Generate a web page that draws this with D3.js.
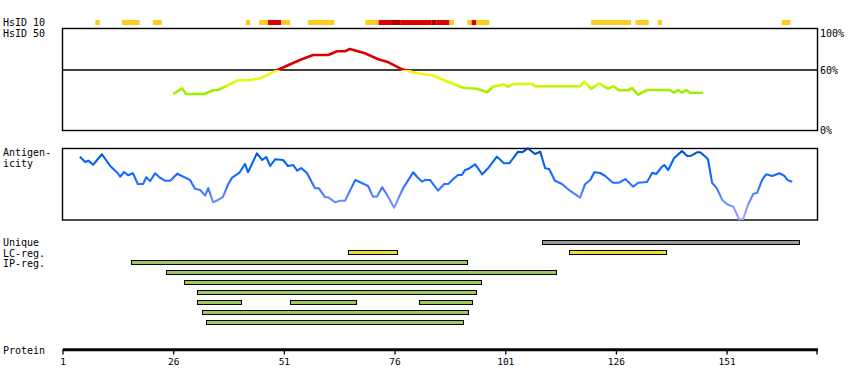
<!DOCTYPE html>
<html>
<head>
<meta charset="utf-8">
<script src="https://cdn.jsdelivr.net/npm/d3@7"></script>
<style>
    body { margin: 0; background: #fff; }
    text { font-family: "DejaVu Sans Mono", monospace; font-size: 10px; fill: #000; }
</style>
</head>
<body>
<svg id="chart" width="850" height="390"></svg>
<script>
// protein length and axis ticks
let proteinLength = 171
let tickResidues = [1, 26, 51, 76, 101, 126, 151]

// HsID 10 identity blocks: [start, end, level] level 1 = medium, 2 = high, 3 = very high
let hsid10Blocks = [
    [8, 8, 1], [14, 17, 1], [21, 22, 1], [42, 42, 1], [45, 46, 1], [47, 49, 2], [50, 51, 1],
    [56, 61, 1], [69, 71, 1], [72, 74, 2], [75, 76, 3], [77, 83, 2], [84, 84, 3], [85, 87, 2],
    [88, 88, 1], [92, 92, 1], [93, 93, 2], [94, 96, 1], [120, 128, 1], [130, 132, 1],
    [135, 135, 1], [163, 164, 1]
]

// HsID 50 identity (%) per residue position
let hsid50Res = [25.9, 27.9, 28.8, 32.9, 34.9, 36.0, 40.5, 43.2, 45.5, 49.3, 54.5, 57.5, 60.9, 62.9,
    64.7, 65.8, 67.6, 69.2, 72.2, 74.2, 77.6, 81.0, 84.4, 86.8, 91.4, 94.5, 96.8, 98.1, 100.6,
    101.5, 102.7, 107.0, 107.6, 117.8, 118.7, 120.3, 122.1, 124.1, 125.3, 126.6, 128.6, 129.5,
    130.9, 132.9, 138.1, 139.0, 139.9, 140.8, 141.7, 142.6, 145.6]
let hsid50Pct = [36, 41.7, 36, 36, 39.7, 40, 49.7, 50, 51.7, 59.7, 70, 75, 75, 78.7,
    78.7, 81, 78.7, 76.7, 70.7, 68.3, 60.7, 56.7, 54.7, 50.3, 42.3, 41.3, 37.7, 43.3, 45.7,
    43.3, 46, 46, 43.7, 43.7, 48.3, 41.3, 46.7, 41.3, 44, 39.7, 39.7, 42,
    35.3, 40, 40, 37.3, 40, 37.3, 40, 37.3, 37.3]

// antigenicity score (0-100) per residue position
let antiRes = [4.8, 6.0, 6.7, 7.8, 9.8, 11.6, 13.4, 13.9, 14.8, 15.7, 16.8, 17.9, 19.1, 19.8, 20.7,
    21.8, 22.7, 24.0, 25.2, 26.8, 28.6, 29.7, 30.8, 32.0, 33.1, 33.8, 34.9, 36.0, 37.1, 38.3,
    39.2, 40.8, 42.1, 42.8, 44.8, 46.0, 46.9, 47.8, 48.9, 50.7, 51.8, 53.0, 53.9, 54.8, 56.1,
    57.9, 58.8, 60.2, 60.9, 62.5, 63.6, 64.7, 67.0, 68.5, 69.9, 71.0, 71.9, 73.1, 74.2, 75.8,
    77.8, 80.1, 81.0, 82.1, 82.8, 83.9, 85.7, 87.1, 88.0, 89.1, 90.2, 91.1, 91.8, 92.5, 94.1,
    95.7, 97.0, 99.0, 100.6, 101.8, 103.8, 104.7, 106.0, 107.6, 108.8, 109.9, 110.8, 112.1,
    113.7, 115.5, 117.8, 118.9, 120.1, 121.0, 122.3, 123.4, 125.2, 126.6, 128.0, 129.8, 130.9,
    132.9, 134.1, 135.0, 136.3, 136.8, 137.7, 139.0, 140.8, 142.0, 142.9, 144.2, 144.9, 146.5,
    146.7, 147.6, 148.7, 149.9, 151.0, 152.4, 153.7, 154.6, 155.7, 156.9, 157.8, 158.9, 159.8,
    161.2, 162.8, 163.9, 164.6, 165.7]
let antiVal = [87.9, 80.6, 82.4, 76.8, 91.3, 75.4, 64.9, 60.1, 66.7, 62.1, 64.9, 50, 50, 59.3, 54.2,
    64.9, 59.7, 54.6, 54.6, 64.3, 58.8, 55.6, 43.5, 41.7, 33.8, 44.4, 24.6, 27.8, 31.9, 49.6,
    58.8, 65.3, 77.8, 66.3, 92.6, 83.3, 87.5, 75, 84.3, 83.3, 75, 76.4, 68.5, 72.2, 65.3,
    44, 44, 31.5, 31.5, 24.6, 26.8, 26.8, 55.6, 51.4, 47.2, 32.4, 32.4, 45.4, 34.7, 17.1,
    44, 66.3, 59.7, 53.2, 55.6, 55.6, 40.7, 50, 50, 56.5, 62.5, 62.5, 69.4, 70.8, 77.4,
    63.5, 71.8, 87.9, 78.8, 78.8, 94.9, 94, 99.6, 91.7, 94.9, 71.8, 70.8, 54.6,
    50, 40.7, 31, 49.6, 55.6, 66.3, 65.3, 61.5, 51.8, 51.8, 56.9, 46.3, 51.8,
    52.8, 65.7, 63.9, 74, 76.4, 69.4, 85.7, 95.8, 88.9, 89.3, 94, 94, 85.7,
    83.3, 51.8, 44, 27.8, 21.8, 18.5, 1, 1.4, 20.8, 36.1, 37.9, 55.6, 63.5,
    61.1, 64.9, 61.5, 55.6, 53.2]

// region tracks: [start, end]
let uniqueRegions = [[109, 166]]
let lcRegions = [[65, 75], [115, 136]]
let ipRows = [
    [[16, 91]],
    [[24, 111]],
    [[28, 94]],
    [[31, 93]],
    [[31, 40], [52, 66], [81, 92]],
    [[32, 91]],
    [[33, 90]]
]

let svg = d3.select("#chart")
let left = 63, right = 817

let x = d3.scaleLinear().domain([1, proteinLength + 0.3]).range([left, right])
let cellX = r => x(r + 0.3) // left edge of a residue cell

// ---- labels on the left
function label(txt, y) {
    svg.append("text").attr("x", 3).attr("y", y).text(txt)
}
label("HsID 10", 26)
label("HsID 50", 36.5)
label("Antigen-", 156)
label("icity", 166.5)
label("Unique", 246)
label("LC-reg.", 256.5)
label("IP-reg.", 266.5)
label("Protein", 353.5)

// ---- HsID 10 strip
let hsidColor = {1: "#ffcc22", 2: "#dd0000", 3: "#aa0000"}
svg.append("g").selectAll("rect")
    .data(hsid10Blocks)
    .join("rect")
    .attr("x", d => cellX(d[0]))
    .attr("y", 20)
    .attr("width", d => cellX(d[1] + 1) - cellX(d[0]))
    .attr("height", 5)
    .attr("fill", d => hsidColor[d[2]])

// ---- HsID 50 panel
let yH = d3.scaleLinear().domain([0, 100]).range([130, 30])
let defs = svg.append("defs")

function gradient(id, scale, stops) {
    let g = defs.append("linearGradient")
        .attr("id", id)
        .attr("gradientUnits", "userSpaceOnUse")
        .attr("x1", 0).attr("x2", 0)
        .attr("y1", scale(100)).attr("y2", scale(0))
    stops.forEach(s => {
        g.append("stop")
            .attr("offset", (100 - s[0]) / 100)
            .attr("stop-color", s[1])
    })
}
gradient("hsidGrad", yH, [
    [100, "#dd0000"], [60.2, "#dd0000"], [59.8, "#ffee22"], [55, "#f4f020"],
    [50, "#ddff00"], [45, "#ccff00"], [41, "#a8ee00"], [36, "#99ee00"], [0, "#99ee00"]
])

svg.append("rect")
    .attr("x", 62.5).attr("y", 28.5)
    .attr("width", right - 62).attr("height", 102)
    .attr("fill", "none").attr("stroke", "#000").attr("stroke-width", 1.4)

svg.append("line")
    .attr("x1", 62.5).attr("x2", right + 0.5)
    .attr("y1", yH(60)).attr("y2", yH(60))
    .attr("stroke", "#000").attr("stroke-width", 1.4)

let hsidLine = d3.line()
    .x((d, i) => x(hsid50Res[i]))
    .y(d => yH(d))
svg.append("path")
    .attr("d", hsidLine(hsid50Pct))
    .attr("fill", "none")
    .attr("stroke", "url(#hsidGrad)")
    .attr("stroke-width", 2.6)
    .attr("stroke-linejoin", "round")

let pctLabels = [100, 60, 0]
svg.append("g").selectAll("text")
    .data(pctLabels)
    .join("text")
    .attr("x", right + 3)
    .attr("y", d => yH(d) + 4 + (d == 100 ? 2.5 : 0))
    .text(d => d + "%")

// ---- antigenicity panel
let yA = d3.scaleLinear().domain([0, 100]).range([220, 148])
gradient("antiGrad", yA, [
    [100, "#0044aa"], [92, "#0055cc"], [84, "#0066ee"], [65, "#1166ff"],
    [45, "#3377ff"], [30, "#6688ff"], [15, "#8899ff"], [0, "#aa99ff"]
])

svg.append("rect")
    .attr("x", 62.5).attr("y", 148.5)
    .attr("width", right - 62).attr("height", 71.5)
    .attr("fill", "none").attr("stroke", "#000").attr("stroke-width", 1.4)

let antiLine = d3.line()
    .x((d, i) => x(antiRes[i]))
    .y(d => yA(d))
svg.append("path")
    .attr("d", antiLine(antiVal))
    .attr("fill", "none")
    .attr("stroke", "url(#antiGrad)")
    .attr("stroke-width", 2.1)
    .attr("stroke-linejoin", "round")

// ---- region tracks
function drawBars(regions, y, fill) {
    svg.append("g").selectAll("rect")
        .data(regions)
        .join("rect")
        .attr("x", d => Math.round(cellX(d[0])) + 0.5)
        .attr("y", y)
        .attr("width", d => Math.round(cellX(d[1] + 1) - cellX(d[0])))
        .attr("height", 4)
        .attr("fill", fill)
        .attr("stroke", "#000")
        .attr("stroke-width", 1)
}
drawBars(uniqueRegions, 240.5, "#999999")
drawBars(lcRegions, 250.5, "#eedd33")
ipRows.forEach((row, i) => {
    drawBars(row, 260.5 + i * 10, "#a0c860")
})

// ---- protein axis
let ax = svg.append("g")
ax.append("line")
    .attr("x1", left).attr("x2", right + 1)
    .attr("y1", 349.8).attr("y2", 349.8)
    .attr("stroke", "#000").attr("stroke-width", 3)
let tickPos = tickResidues.map(r => x(r)).concat([right])
ax.selectAll("line.tick")
    .data(tickPos)
    .join("line")
    .attr("class", "tick")
    .attr("x1", d => d).attr("x2", d => d)
    .attr("y1", 349).attr("y2", 354.5)
    .attr("stroke", "#000").attr("stroke-width", 1.3)
ax.selectAll("text")
    .data(tickResidues)
    .join("text")
    .attr("x", d => x(d))
    .attr("y", 365)
    .attr("text-anchor", "middle")
    .style("font-size", "9.5px")
    .text(d => d)
</script>
</body>
</html>
